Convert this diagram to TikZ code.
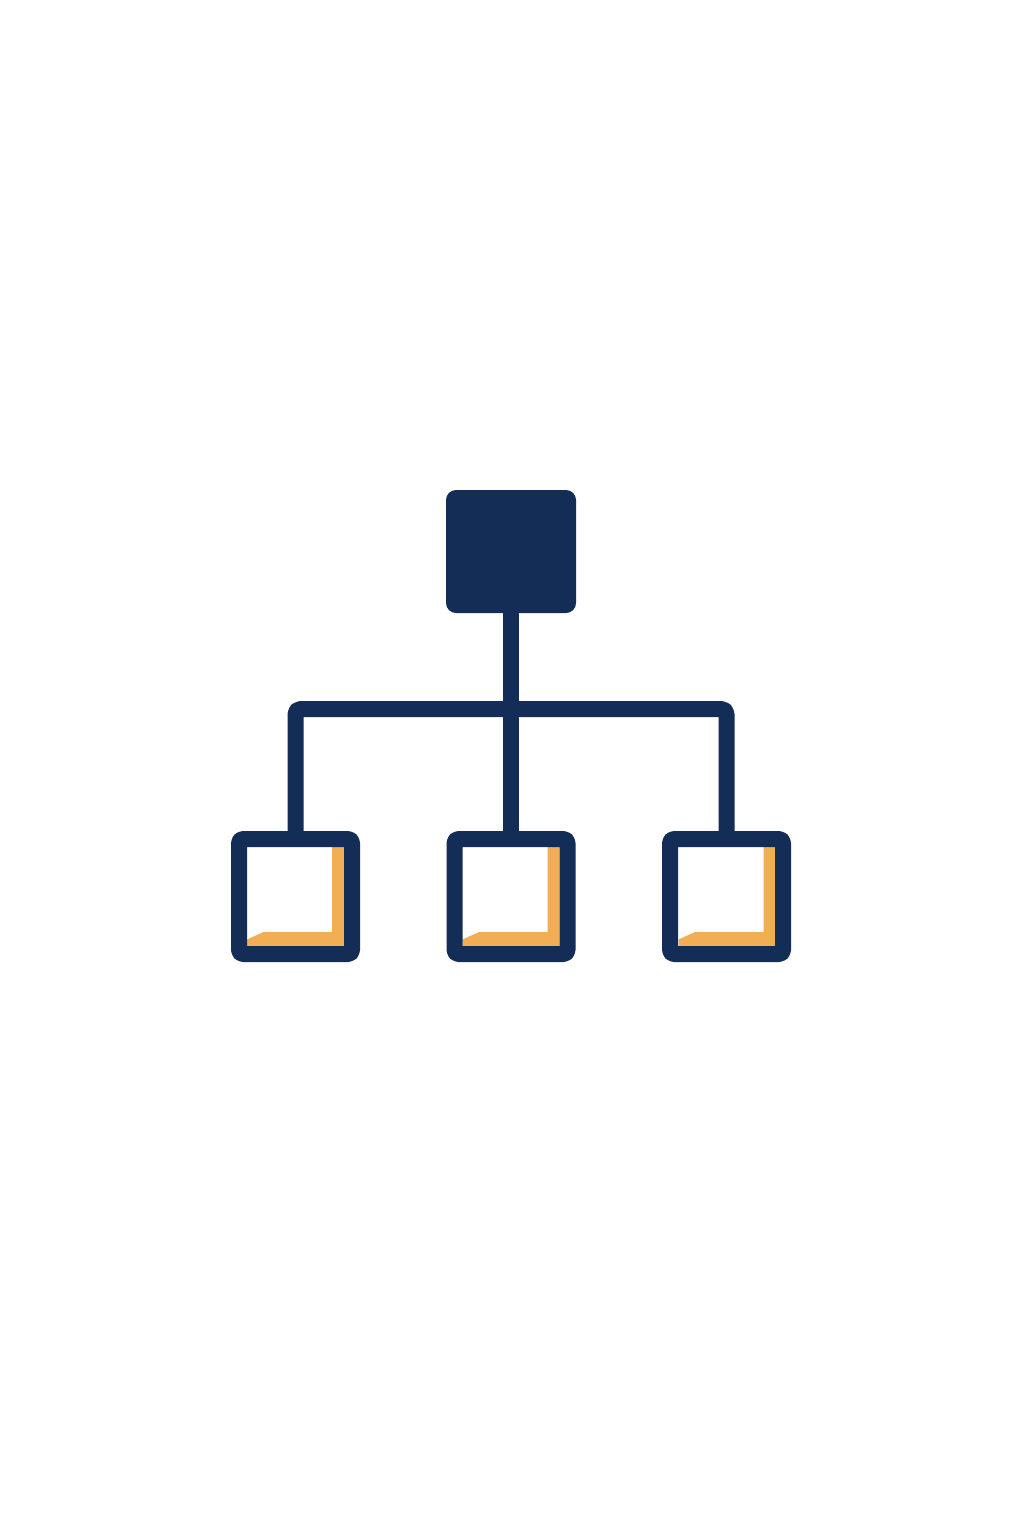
\documentclass[tikz,border=0pt]{standalone}
\definecolor{navy}{HTML}{132D56}
\definecolor{accent}{HTML}{F2AE55}
\tikzset{
  rootbox/.style={rectangle, fill=navy, draw=none, rounded corners=10pt, inner sep=0pt, minimum width=130pt, minimum height=123pt},
  childbox/.style={rectangle, draw=navy, line width=16pt, line join=round, rounded corners=4pt, inner sep=0pt, minimum width=113pt, minimum height=115pt},
  conn/.style={draw=navy, line width=16pt, line cap=butt, line join=round, rounded corners=5pt},
  shade/.style={fill=accent, draw=none}
}
\begin{document}
\begin{tikzpicture}[x=1pt,y=-1pt]
\useasboundingbox (0,0) rectangle (1024,1536);
\fill[white] (0,0) rectangle (1024,1536);
% orange L shapes inside child boxes
\foreach \cx in {295.5,511,727}{
  \begin{scope}[shift={(\cx,896.5)}]
    \fill[shade] (48.5,-49.5) -- (48.5,49.5) -- (-48.5,49.5) -- (-48.5,43) -- (-32,35.5) -- (36.5,35.5) -- (36.5,-49.5) -- cycle;
  \end{scope}
}
\node[rootbox] (root) at (511,551.5) {};
\node[childbox] (c1) at (295.5,896.5) {};
\node[childbox] (c2) at (511,896.5) {};
\node[childbox] (c3) at (726.5,896.5) {};
\coordinate (j) at (511,709);
\draw[conn] (root.south) -- (c2.north);
\draw[conn] (c1.north) |- (j) -| (c3.north);
\end{tikzpicture}
\end{document}
